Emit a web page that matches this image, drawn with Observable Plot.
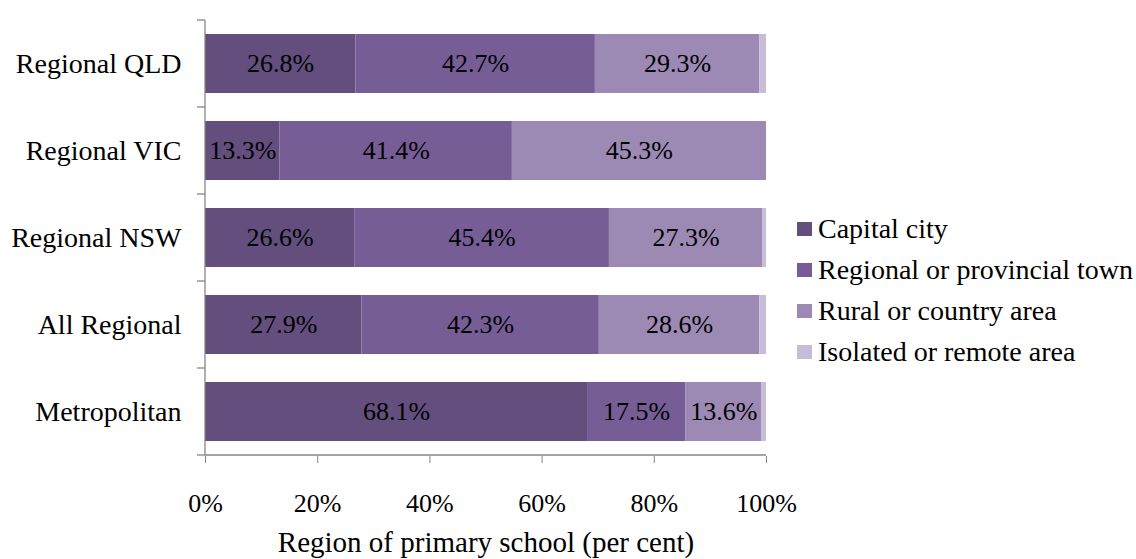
<!DOCTYPE html>
<html>
<head>
<meta charset="utf-8">
<script src="https://cdn.jsdelivr.net/npm/d3@7"></script>
<script src="https://cdn.jsdelivr.net/npm/@observablehq/plot@0.6"></script>
<style>
  body { margin: 0; background: #fff; }
  #wrap { position: relative; width: 1136px; height: 559px; overflow: hidden; font-family: "Liberation Serif", "Times New Roman", serif; }
  #legend { position: absolute; left: 797px; top: 208px; font-size: 28px; color: #000; }
  #legend .row { display: flex; align-items: center; height: 41px; white-space: pre; }
  #legend .sw { width: 15px; height: 14px; margin-right: 6px; flex: none; }
</style>
</head>
<body>
<div id="wrap"><div id="legend"></div></div>
<script>
const categories = ["Regional QLD", "Regional VIC", "Regional NSW", "All Regional", "Metropolitan"];
const series = ["Capital city", "Regional or provincial town", "Rural or country area", "Isolated or remote area"];
const capitalCity = [26.8, 13.3, 26.6, 27.9, 68.1];
const regionalTown = [42.7, 41.4, 45.4, 42.3, 17.5];
const ruralArea = [29.3, 45.3, 27.3, 28.6, 13.6];
const isolatedArea = [1.2, 0, 0.7, 1.2, 0.8];
const colors = ["#634e7e", "#765d96", "#9c89b4", "#c8bdd9"];
const xTicks = [0, 20, 40, 60, 80, 100];

const seriesValues = [capitalCity, regionalTown, ruralArea, isolatedArea];
const data = [];
series.forEach((s, si) => categories.forEach((c, ci) => data.push({cat: c, series: s, value: seriesValues[si][ci], labeled: si < 3 && seriesValues[si][ci] > 0})));

const font = '"Liberation Serif", "Times New Roman", serif';
const pInner = 0.32, pOuter = 0.16;
const axisColor = "#868686";

function yBoundaryTicks(index, scales, values, dimensions) {
  const y = scales.y;
  const step = y(categories[1]) - y(categories[0]);
  const bw = y.bandwidth ? y.bandwidth() : step * (1 - pInner);
  const gap = (step - bw) / 2;
  const ys = categories.map(c => y(c) - gap);
  ys.push(y(categories[categories.length - 1]) + bw + gap);
  const g = d3.create("svg:g");
  const x0 = dimensions.marginLeft;
  g.selectAll("line").data(ys).join("line")
    .attr("x1", x0 - 8).attr("x2", x0).attr("y1", d => d).attr("y2", d => d)
    .attr("stroke", axisColor).attr("stroke-width", 1.3);
  g.append("line").attr("x1", x0).attr("x2", x0).attr("y1", ys[0]).attr("y2", ys[ys.length - 1]).attr("stroke", axisColor).attr("stroke-width", 1.3);
  g.append("line").attr("x1", x0).attr("x2", dimensions.width - dimensions.marginRight).attr("y1", ys[ys.length - 1]).attr("y2", ys[ys.length - 1]).attr("stroke", axisColor).attr("stroke-width", 1.3);
  return g.node();
}

const plot = Plot.plot({
  width: 1136,
  height: 559,
  marginLeft: 205,
  marginRight: 370,
  marginTop: 20,
  marginBottom: 103,
  style: {fontFamily: font, fontSize: "26px", color: "#000", background: "transparent"},
  x: {domain: [0, 100]},
  y: {domain: categories, paddingInner: pInner, paddingOuter: pOuter},
  color: {domain: series, range: colors},
  marks: [
    Plot.barX(data, Plot.stackX({x: "value", y: "cat", fill: "series", order: series})),
    Plot.text(data, Plot.stackX({x: "value", y: "cat", z: "series", order: series, text: d => d.labeled ? d.value.toFixed(1) + "%" : "", fill: "#000", fontSize: 26})),
    Plot.axisY({tickSize: 0, tickPadding: 24, fontSize: 28, label: null}),
    Plot.axisX({ticks: xTicks, tickFormat: d => d + "%", tickSize: 7, tickPadding: 30, stroke: axisColor, fontSize: 26, label: null}),
    Plot.axisX({ticks: [], tickSize: 0, fontSize: 29, label: "Region of primary school (per cent)", labelAnchor: "center", labelArrow: "none", labelOffset: 95}),
    yBoundaryTicks
  ]
});
document.getElementById("wrap").prepend(plot);

const legend = document.getElementById("legend");
series.forEach((s, i) => {
  const row = document.createElement("div");
  row.className = "row";
  const sw = document.createElement("span");
  sw.className = "sw";
  sw.style.background = colors[i];
  const t = document.createElement("span");
  t.textContent = s;
  row.append(sw, t);
  legend.append(row);
});
</script>
</body>
</html>
